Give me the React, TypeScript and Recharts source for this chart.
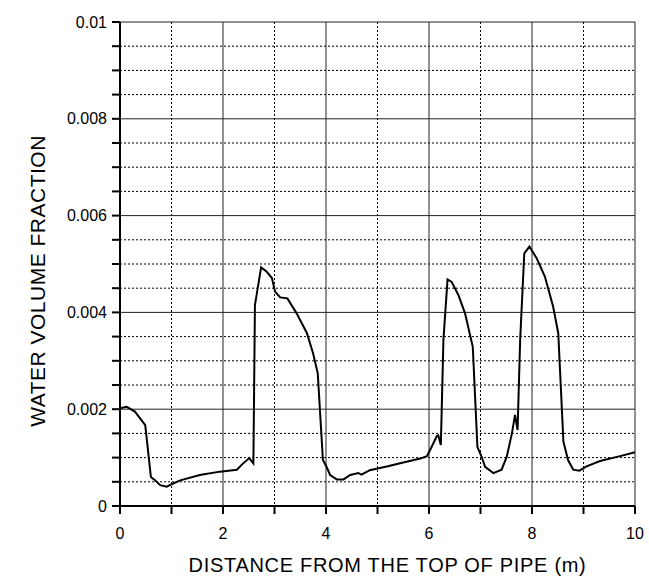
import React from 'react';
import { LineChart, Line, XAxis, YAxis, CartesianGrid } from 'recharts';

const distance = [0, 0.13, 0.29, 0.49, 0.6, 0.68, 0.78, 0.91, 1.0, 1.17, 1.55, 1.94, 2.27, 2.39, 2.51, 2.59, 2.62, 2.74, 2.85, 2.95, 3.01, 3.11, 3.25, 3.43, 3.63, 3.75, 3.84, 3.94, 4.01, 4.08, 4.21, 4.34, 4.47, 4.63, 4.69, 4.85, 5.2, 5.5, 5.83, 5.96, 6.05, 6.15, 6.18, 6.23, 6.28, 6.36, 6.44, 6.57, 6.7, 6.85, 6.94, 7.02, 7.09, 7.25, 7.41, 7.51, 7.61, 7.67, 7.72, 7.77, 7.85, 7.95, 8.09, 8.25, 8.41, 8.51, 8.61, 8.7, 8.8, 8.92, 9.06, 9.32, 9.71, 10];
const waterFraction = [0.00202, 0.00205, 0.00195, 0.00167, 0.0006, 0.00053, 0.00043, 0.0004, 0.00045, 0.00053, 0.00064, 0.00071, 0.00075, 0.00088, 0.00099, 0.00088, 0.00415, 0.00493, 0.00484, 0.00471, 0.00443, 0.00431, 0.00429, 0.00398, 0.00357, 0.00315, 0.00274, 0.00095, 0.00081, 0.00064, 0.00055, 0.00055, 0.00064, 0.00068, 0.00065, 0.00074, 0.00082, 0.0009, 0.00098, 0.00103, 0.00122, 0.00144, 0.00146, 0.00126, 0.00343, 0.00468, 0.00463, 0.00436, 0.00398, 0.00329, 0.00122, 0.00102, 0.00081, 0.00068, 0.00075, 0.00102, 0.0015, 0.00188, 0.00157, 0.00343, 0.00522, 0.00536, 0.00512, 0.00474, 0.00412, 0.00357, 0.00133, 0.00095, 0.00075, 0.00073, 0.00082, 0.00093, 0.00103, 0.00111];

const xMajor = [0, 2, 4, 6, 8, 10];
const xMinor = [1, 3, 5, 7, 9];
const xTicks = [0, 1, 2, 3, 4, 5, 6, 7, 8, 9, 10];
const yMajor = [0, 0.002, 0.004, 0.006, 0.008, 0.01];
const yMinor = [0.0005, 0.001, 0.0015, 0.0025, 0.003, 0.0035, 0.0045, 0.005, 0.0055, 0.0065, 0.007, 0.0075, 0.0085, 0.009, 0.0095];
const yTicks = [0, 0.0005, 0.001, 0.0015, 0.002, 0.0025, 0.003, 0.0035, 0.004, 0.0045, 0.005, 0.0055, 0.006, 0.0065, 0.007, 0.0075, 0.008, 0.0085, 0.009, 0.0095, 0.01];

const xTitle = 'DISTANCE FROM THE TOP OF PIPE (m)';
const yTitle = 'WATER VOLUME FRACTION';

const data = distance.map((d, i) => ({ d, f: waterFraction[i] }));

const FONT = 'Liberation Sans, Arial, Helvetica, sans-serif';

const YTitle = (props: any) => {
  const vb = props.viewBox || {};
  const cx = vb.x + 37;
  const cy = vb.y + vb.height / 2 + 17;
  return (
    <text x={cx} y={cy} transform={`rotate(-90 ${cx} ${cy})`} textAnchor="middle" dominantBaseline="central" fontFamily={FONT} fontSize={21} letterSpacing={0.5} fill="#000">
      {yTitle}
    </text>
  );
};

const XTitle = (props: any) => {
  const vb = props.viewBox || {};
  const cx = vb.x + vb.width / 2 + 10;
  const cy = vb.y + 59;
  return (
    <text x={cx} y={cy} textAnchor="middle" dominantBaseline="central" fontFamily={FONT} fontSize={20} letterSpacing={0.7} fill="#000">
      {xTitle}
    </text>
  );
};

export default function App() {
  return (
    <div style={{ position: 'absolute', left: 0, top: 0, background: '#fff' }}>
      <LineChart width={649} height={581} data={data} margin={{ top: 22, right: 14, left: 0, bottom: 0 }}>
        <CartesianGrid stroke="#000" strokeDasharray="2 2" strokeWidth={1} horizontalValues={yMinor} verticalValues={xMinor} />
        <CartesianGrid stroke="#222" strokeWidth={1} horizontalValues={yMajor} verticalValues={xMajor} />
        <XAxis
          dataKey="d"
          type="number"
          domain={[0, 10]}
          ticks={xTicks}
          interval={0}
          tickFormatter={(v: number) => (xMajor.includes(v) ? String(v) : '')}
          height={75}
          stroke="#000"
          strokeWidth={2}
          tickSize={8}
          tickMargin={14}
          tick={{ fill: '#000', fontSize: 16, fontFamily: FONT }}
          label={{ content: XTitle }}
        />
        <YAxis
          type="number"
          domain={[0, 0.01]}
          ticks={yTicks}
          interval={0}
          tickFormatter={(v: number) => (yMajor.includes(v) ? String(v) : '')}
          width={120}
          stroke="#000"
          strokeWidth={2}
          tickSize={8}
          tickMargin={5}
          tick={{ fill: '#000', fontSize: 16, fontFamily: FONT }}
          label={{ content: YTitle }}
        />
        <Line type="linear" dataKey="f" stroke="#000" strokeWidth={2} dot={false} isAnimationActive={false} />
      </LineChart>
    </div>
  );
}
